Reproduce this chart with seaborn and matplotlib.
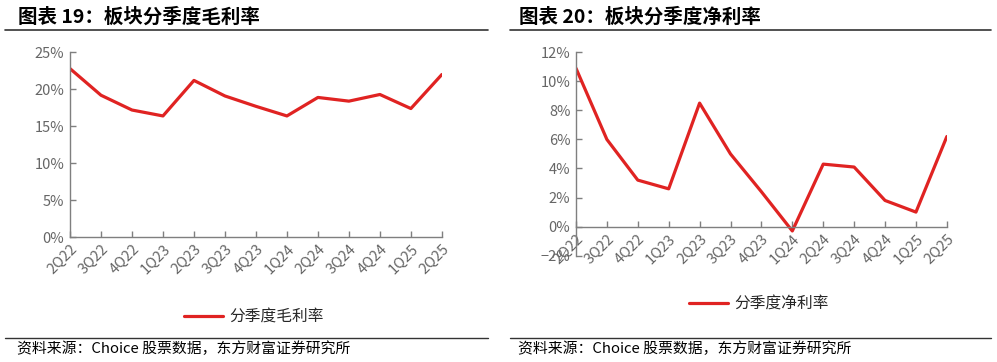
import matplotlib
matplotlib.use("Agg")
import matplotlib.pyplot as plt
import seaborn as sns
import pandas as pd
from matplotlib.ticker import PercentFormatter, MultipleLocator
from matplotlib.lines import Line2D

# Data (values in %)
quarters = ["2Q22", "3Q22", "4Q22", "1Q23", "2Q23", "3Q23", "4Q23",
            "1Q24", "2Q24", "3Q24", "4Q24", "1Q25", "2Q25"]
gross_margin = [22.8, 19.2, 17.2, 16.4, 21.2, 19.1, 17.7,
                16.4, 18.9, 18.4, 19.3, 17.4, 22.0]
net_margin = [10.9, 6.0, 3.2, 2.6, 8.5, 5.0, 2.4,
              -0.3, 4.3, 4.1, 1.8, 1.0, 6.2]

titles = ["图表 19：板块分季度毛利率", "图表 20：板块分季度净利率"]
legend_labels = ["分季度毛利率", "分季度净利率"]
source = "资料来源：Choice 股票数据，东方财富证券研究所"

sns.set_style("white")
plt.rcParams["font.family"] = ["Noto Sans CJK SC", "DejaVu Sans"]

red = "#E02322"
gray_txt = "#666666"
axis_col = "#7F7F7F"

fig = plt.figure(figsize=(9.97, 3.62), dpi=100)
ax1 = fig.add_axes([0.0702, 0.3445, 0.373, 0.511])
ax2 = fig.add_axes([0.5777, 0.2937, 0.372, 0.562])

df = pd.DataFrame({"quarter": quarters, "gross": gross_margin, "net": net_margin})

sns.lineplot(data=df, x="quarter", y="gross", ax=ax1, color=red, lw=2.3,
             label=legend_labels[0], sort=False)
sns.lineplot(data=df, x="quarter", y="net", ax=ax2, color=red, lw=2.3,
             label=legend_labels[1], sort=False)

ax1.set_ylim(0, 25)
ax1.yaxis.set_major_locator(MultipleLocator(5))
ax2.set_ylim(-2, 12)
ax2.yaxis.set_major_locator(MultipleLocator(2))
ax2.spines["bottom"].set_position(("data", 0))

legend_pos = [(0.2543, 0.125), (0.7613, 0.160)]
for ax, lp in zip([ax1, ax2], legend_pos):
    ax.set_xlim(0, len(quarters) - 1)
    ax.set_xlabel("")
    ax.set_ylabel("")
    ax.yaxis.set_major_formatter(PercentFormatter(xmax=100, decimals=0))
    for s in ["top", "right"]:
        ax.spines[s].set_visible(False)
    for s in ["left", "bottom"]:
        ax.spines[s].set_color(axis_col)
        ax.spines[s].set_linewidth(1.0)
    ax.tick_params(axis="both", direction="in", length=4, width=1.0,
                   color=axis_col, labelcolor=gray_txt, labelsize=10.5)
    ax.tick_params(axis="y", pad=4)
    ax.tick_params(left=True, bottom=True)
    plt.setp(ax.get_xticklabels(), rotation=45, ha="right",
             rotation_mode="anchor")
    ax.legend(loc="center", bbox_to_anchor=lp, bbox_transform=fig.transFigure,
              frameon=False, handlelength=2.5, fontsize=11.3,
              handletextpad=0.4)

# titles and header/footer rules
for x0, x1, tx, t in [(0.005, 0.489, 0.018, titles[0]),
                      (0.512, 0.994, 0.521, titles[1])]:
    fig.text(tx, 1 - 17 / 362, t, fontsize=14, fontweight="bold",
             va="center", ha="left", color="black")
    fig.add_artist(Line2D([x0, x1], [1 - 30 / 362] * 2, color="#333333",
                          lw=1.2, transform=fig.transFigure))
    fig.add_artist(Line2D([x0, x1], [1 - 338 / 362] * 2, color="#333333",
                          lw=1.0, transform=fig.transFigure))
    fig.text(tx - 0.001, 1 - 349 / 362, source, fontsize=10.7, va="center",
             ha="left", color="black")

fig.savefig("out.png", dpi=100)
